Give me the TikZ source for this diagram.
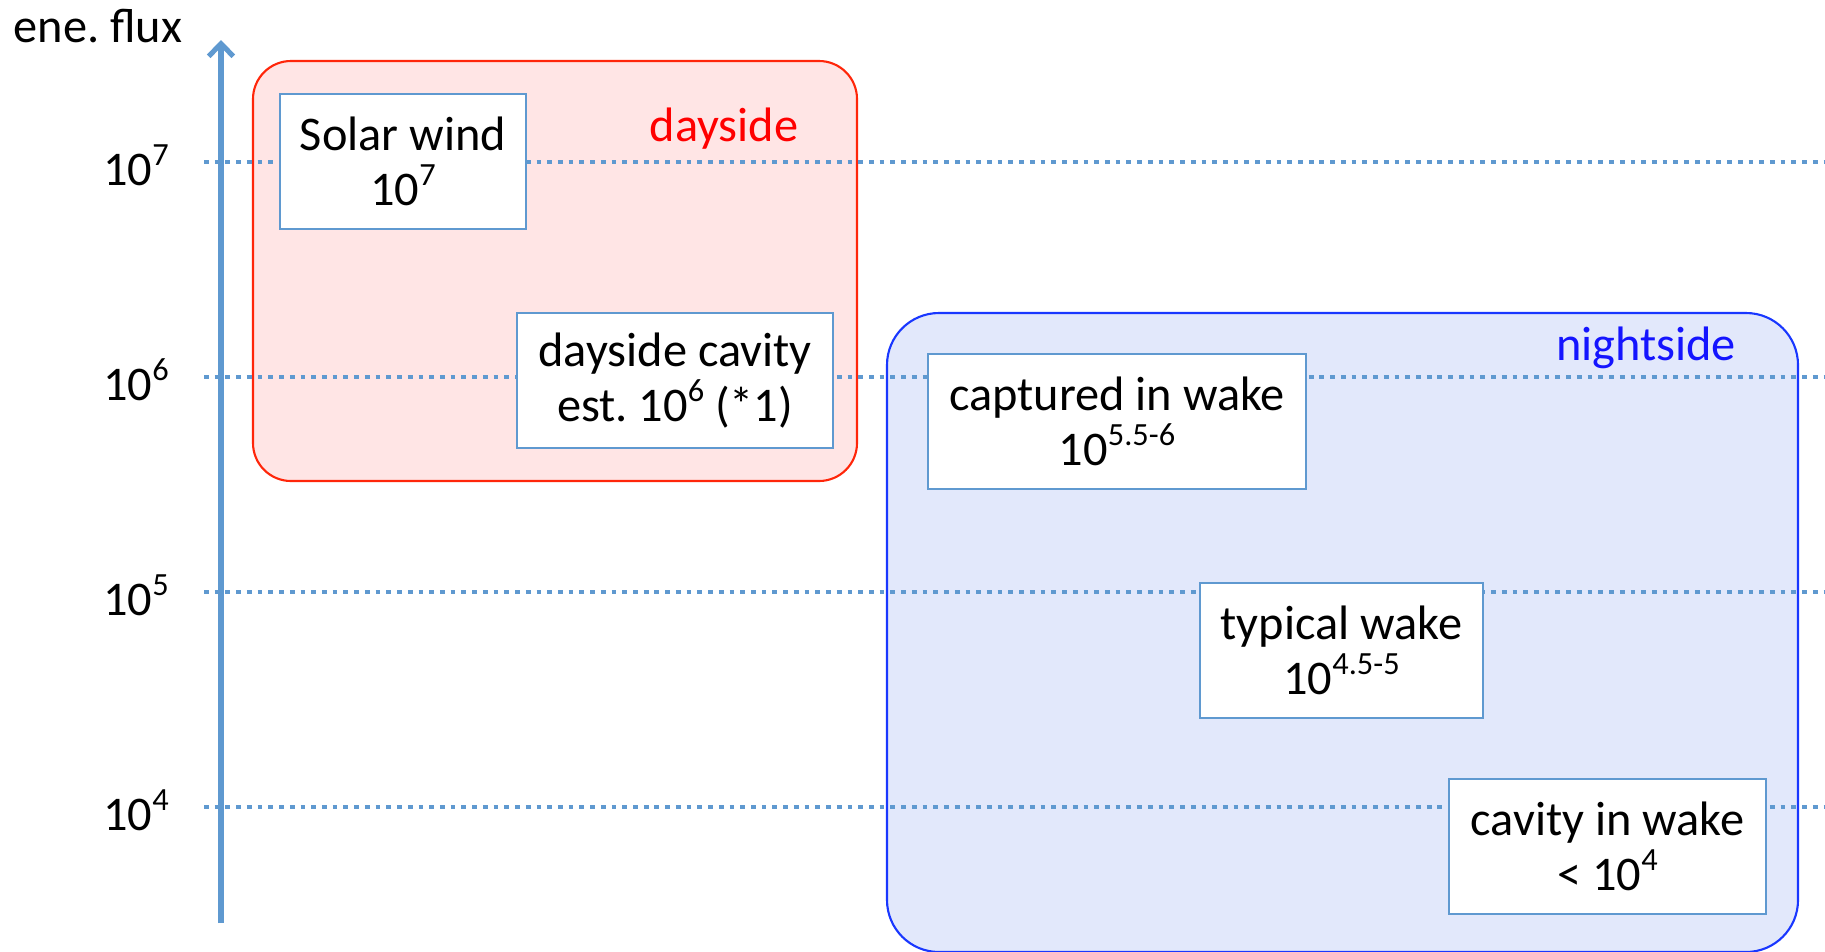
\documentclass[tikz,border=0pt]{standalone}
\usepackage{fontspec}
\setmainfont{Carlito}
\usetikzlibrary{arrows.meta}

\definecolor{axisblue}{RGB}{95,153,208}
\definecolor{dayfill}{RGB}{255,229,229}
\definecolor{dayline}{RGB}{255,38,10}
\definecolor{nightfill}{RGB}{226,232,251}
\definecolor{nightline}{RGB}{25,55,255}
\definecolor{daytext}{RGB}{255,0,0}
\definecolor{nighttext}{RGB}{20,20,255}

% raised exponent
\newcommand{\pw}[1]{\raisebox{0.42em}{\fontsize{9.2}{9.2}\selectfont #1}}

\tikzset{
  txt/.style={font=\fontsize{13.75}{15.6}\selectfont, inner sep=0pt, align=center},
  region/.style={line width=0.6pt, rounded corners=#1},
  levelline/.style={draw=axisblue, line width=1.35pt, dash pattern=on 1.35pt off 1.7pt},
  valbox/.style={txt, draw=axisblue, line width=0.55pt, fill=white,
                 minimum width=#1, minimum height=135*0.01cm},
}

\begin{document}
\frenchspacing
\begin{tikzpicture}[x=0.01cm, y=-0.01cm]
\useasboundingbox (0,0) rectangle (1825,951);
\clip (0,0) rectangle (1825,951);

% dayside and nightside regions
\draw[region=38*0.01cm, draw=dayline, fill=dayfill] (253,61) rectangle (857,481);
\draw[region=52*0.01cm, draw=nightline, fill=nightfill] (887,313) rectangle (1798,952);

% flux levels
\foreach \yy/\nm/\ex in {162/l7/7, 377/l6/6, 592/l5/5, 807/l4/4}{
  \coordinate (\nm a) at (204,\yy);
  \coordinate (\nm b) at (1825,\yy);
  \draw[levelline] (\nm a) -- (\nm b);
  \node[txt, anchor=center] (\nm lab) at (136,\yy+3) {10\pw{\ex}};
}

% vertical axis
\coordinate (axlo) at (221,923);
\coordinate (axhi) at (221,40);
\draw[axisblue, line width=1.45pt, -{Straight Barb[length=3.6pt, width=7pt, line width=1.45pt]}] (axlo) -- (axhi);
\node[txt, anchor=west] (axtitle) at (13,26) {ene. flux};

% region labels
\node[txt, text=daytext] (daylab) at (724,129) {dayside};
\node[txt, text=nighttext] (nightlab) at (1646,348) {nightside};

% value boxes
\node[valbox=246*0.01cm] (sw) at (403,161.5) {Solar wind\\10\pw{7}};
\node[valbox=316*0.01cm] (dc) at (675,380.5) {dayside cavity\\est. 10\pw{6} (*1)};
\node[valbox=378*0.01cm] (cw) at (1117,421.5) {captured in wake\\10\pw{5.5-6}};
\node[valbox=283*0.01cm] (tw) at (1341.5,650.5) {typical wake\\10\pw{4.5-5}};
\node[valbox=317*0.01cm] (ciw) at (1607.5,846.5) {cavity in wake\\\textless{} 10\pw{4}};
\end{tikzpicture}
\end{document}
